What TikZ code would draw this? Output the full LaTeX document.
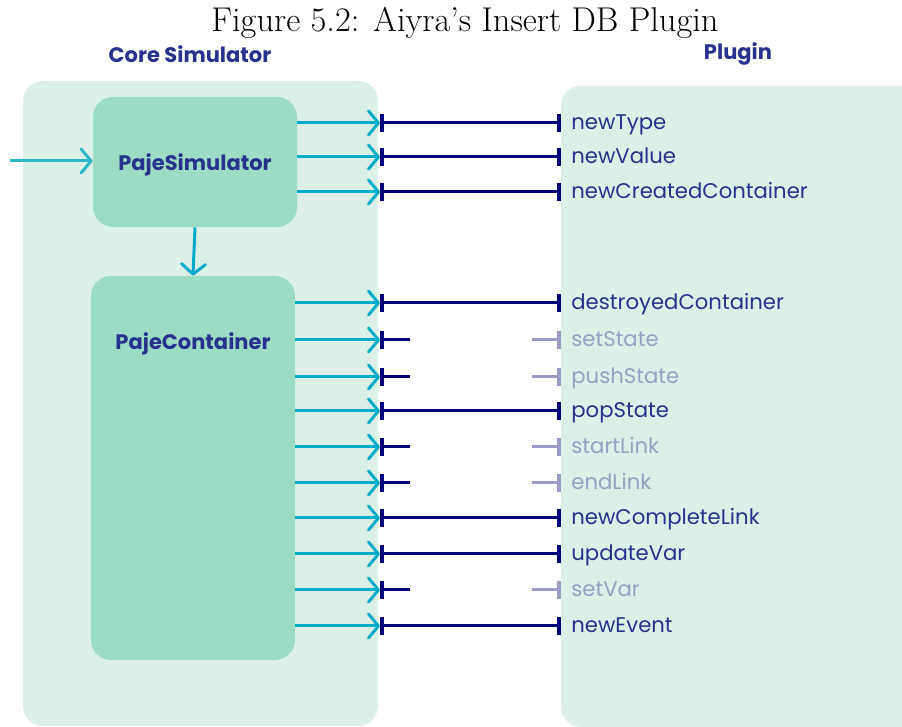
\documentclass[tikz,border=0pt]{standalone}
\usepackage{fontspec}
\newfontfamily\plugfont{Poppins}
\usetikzlibrary{positioning,arrows.meta}
\definecolor{pgMint}{RGB}{220,240,232}
\definecolor{pgGreen}{RGB}{155,221,196}
\definecolor{pgCyan}{RGB}{0,172,200}
\definecolor{pgTeal}{RGB}{45,182,195}
\definecolor{pgNavy}{RGB}{0,0,120}
\definecolor{pgLilac}{RGB}{155,155,200}
\definecolor{pgInk}{RGB}{40,50,140}
\definecolor{pgFaint}{RGB}{150,160,195}

\tikzset{
  panel/.style={fill=pgMint, rounded corners=10pt},
  unit/.style={fill=pgGreen, rounded corners=10pt, inner sep=0pt,
    minimum width=102pt},
  unittext/.style={text=pgInk, font=\plugfont\bfseries\fontsize{10.5}{12}\selectfont},
  head/.style={text=pgInk, font=\plugfont\bfseries\fontsize{10.5}{12}\selectfont},
  call/.style={anchor=west, inner xsep=5pt, text height=7pt, text depth=0pt,
    font=\plugfont\fontsize{10.6}{12}\selectfont},
  live/.style={text=pgInk},
  idle/.style={text=pgFaint},
  feed/.style={pgCyan, line width=1.5pt,
    -{Straight Barb[length=5pt,width=12pt,line cap=round,line join=round]}},
  link/.style={pgNavy, line width=1.5pt,
    {Bar[width=9pt,line width=2pt]}-{Bar[width=9pt,line width=2pt]}},
  stub/.style={pgNavy, line width=1.5pt, {Bar[width=9pt,line width=2pt]}-},
  ghost/.style={pgLilac, line width=1.5pt, -{Bar[width=9pt,line width=2pt]}}
}

\begin{document}
\begin{tikzpicture}[x=0.5pt,y=-0.5pt]
  \useasboundingbox (0,0) rectangle (902,727);

  % Caption and column titles
  \node (caption) at (465,23) {\fontsize{17.2}{19}\selectfont Figure 5.2: Aiyra’s Insert DB Plugin};
  \node[head] (core-title) at (190,54) {Core Simulator};
  \node[head] (plug-title) at (738,54) {Plugin};

  % Panels
  \fill[panel] (23,81) rectangle (378,726);
  \fill[panel] (561,86) rectangle (930,727);

  % Core units
  \node[unit, minimum height=65pt] (sim) at (195,162) {};
  \node[unittext] (sim-name) at ([yshift=-1.5pt]sim) {PajeSimulator};
  \node[unit, minimum height=192pt] (cont) at (193,468) {};
  \node[unittext, below=34pt of cont.north, anchor=center] (cont-name) {PajeContainer};

  % Incoming and internal arrows
  \coordinate (entry) at (10,161);
  \draw[feed, pgTeal] (entry) -- (sim.west |- entry);
  \draw[feed] (sim.south) -- (cont.north);

  % Calls from the simulator
  \foreach \y/\name in {123/newType, 157/newValue, 192/newCreatedContainer} {
    \coordinate (in-\name) at (380,\y);
    \node[call, live] (m-\name) at (561,\y) {\name};
    \draw[feed] (sim.east |- in-\name) -- (in-\name);
    \draw[link] (in-\name) -- (m-\name.west);
  }

  % Calls from the container, used by the plugin
  \foreach \y/\name in {303/destroyedContainer, 411/popState, 518/newCompleteLink,
      554/updateVar, 626/newEvent} {
    \coordinate (in-\name) at (380,\y);
    \node[call, live] (m-\name) at (561,\y) {\name};
    \draw[feed] (cont.east |- in-\name) -- (in-\name);
    \draw[link] (in-\name) -- (m-\name.west);
  }

  % Calls from the container, not used
  \foreach \y/\name in {340/setState, 377/pushState, 447/startLink, 483/endLink,
      590/setVar} {
    \coordinate (in-\name) at (380,\y);
    \node[call, idle] (m-\name) at (561,\y) {\name};
    \draw[feed] (cont.east |- in-\name) -- (in-\name);
    \draw[stub] (in-\name) -- ++(30,0);
    \draw[ghost] ([xshift=-14.5pt]m-\name.west) -- (m-\name.west);
  }
\end{tikzpicture}
\end{document}
